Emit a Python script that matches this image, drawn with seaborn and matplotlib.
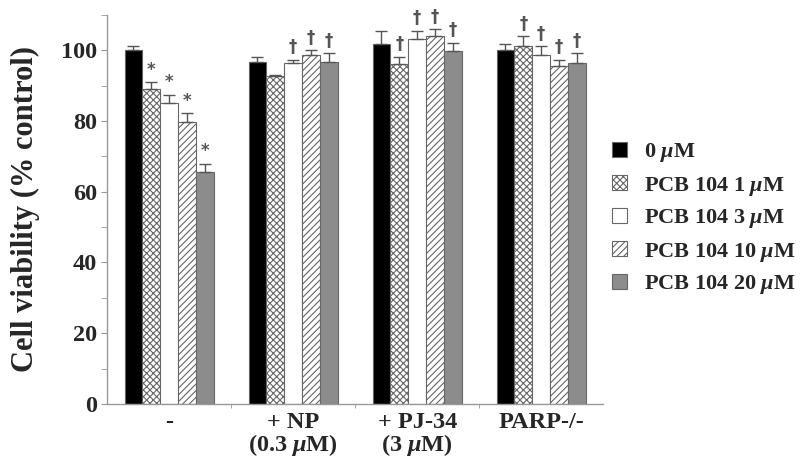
import numpy as np
import pandas as pd
import matplotlib
matplotlib.use("Agg")
import matplotlib.pyplot as plt
import seaborn as sns

# values
groups = ["-", "+ NP\n(0.3 $\\mu$M)", "+ PJ-34\n(3 $\\mu$M)", "PARP-/-"]
doses = ["0 $\\mu$M", "PCB 104 1 $\\mu$M", "PCB 104 3 $\\mu$M",
         "PCB 104 10 $\\mu$M", "PCB 104 20 $\\mu$M"]
viability = [
    [100.0, 89.0, 85.2, 79.6, 65.6],
    [96.8, 92.6, 96.3, 98.6, 96.7],
    [101.9, 96.2, 103.3, 104.1, 99.8],
    [100.0, 101.2, 98.6, 95.6, 96.5],
]
sem = [
    [1.1, 2.0, 2.2, 2.6, 2.3],
    [1.2, 0.4, 1.0, 1.4, 2.4],
    [3.5, 2.0, 2.3, 1.9, 2.4],
    [1.9, 2.8, 2.6, 1.8, 2.6],
]
marks = [
    ["", "*", "*", "*", "*"],
    ["", "", "\u2020", "\u2020", "\u2020"],
    ["", "\u2020", "\u2020", "\u2020", "\u2020"],
    ["", "\u2020", "\u2020", "\u2020", "\u2020"],
]

colors = ["#000000", "#ffffff", "#ffffff", "#ffffff", "#8c8c8c"]
hatches = [None, "xxxxx", None, "/////", None]

rows = []
for g, vals in zip(groups, viability):
    for d, v in zip(doses, vals):
        rows.append({"group": g, "dose": d, "value": v})
df = pd.DataFrame(rows)

sns.set_style("white")
plt.rcParams["font.family"] = ["Liberation Serif", "DejaVu Serif"]
plt.rcParams["font.weight"] = "bold"
plt.rcParams["mathtext.fontset"] = "custom"
plt.rcParams["mathtext.it"] = "Liberation Serif:italic:bold"
plt.rcParams["mathtext.rm"] = "Liberation Serif:bold"
plt.rcParams["hatch.color"] = "#999999"
plt.rcParams["hatch.linewidth"] = 0.8

fig = plt.figure(figsize=(8, 4.67), dpi=100)
ax = fig.add_axes([0.134, 0.135, 0.62, 0.833])

sns.barplot(data=df, x="group", y="value", hue="dose", order=groups,
            hue_order=doses, palette=colors, width=0.72, errorbar=None,
            edgecolor="#666666", linewidth=0.8, ax=ax)

for j, d in enumerate(doses):
    cont = ax.containers[j]
    for i, patch in enumerate(cont.patches):
        if hatches[j]:
            patch.set_hatch(hatches[j])
        xc = patch.get_x() + patch.get_width() / 2
        top = patch.get_height()
        ax.errorbar(xc, top, yerr=[[0], [sem[i][j]]], fmt="none",
                    ecolor="#555555", elinewidth=1, capsize=4, capthick=1)
        m = marks[i][j]
        if m:
            ax.text(xc, top + sem[i][j] + 1.0, m, ha="center", va="bottom",
                    fontsize=12, color="#555555",
                    family=["DejaVu Sans"], fontweight="bold")

ax.set_ylim(0, 110)
ax.set_xlim(-0.5, 3.5)
ax.set_yticks([0, 20, 40, 60, 80, 100])
ax.set_yticks([10, 30, 50, 70, 90, 110], minor=True)
ax.set_xticks([0.5, 1.5, 2.5], minor=True)
ax.tick_params(axis="y", which="both", direction="out", length=4,
               color="#999999", labelsize=17.5, left=True)
ax.tick_params(axis="x", which="major", length=0, labelsize=17.5, pad=6)
ax.tick_params(axis="x", which="minor", direction="out", length=3,
               color="#999999", bottom=True)
for lbl in ax.get_yticklabels() + ax.get_xticklabels():
    lbl.set_fontweight("bold")
for lbl in ax.get_xticklabels():
    lbl.set_linespacing(0.95)

ax.set_xlabel("")
ax.set_ylabel("Cell viability (% control)", fontsize=22, fontweight="bold",
              labelpad=15)
for s in ["top", "right"]:
    ax.spines[s].set_visible(False)
for s in ["left", "bottom"]:
    ax.spines[s].set_color("#999999")
    ax.spines[s].set_linewidth(1)

leg = ax.legend(loc="center left", bbox_to_anchor=(612 / 800, 1 - 219 / 467),
                bbox_transform=fig.transFigure, frameon=False,
                borderaxespad=0, borderpad=0,
                fontsize=16, handlelength=0.68, handleheight=0.68,
                handletextpad=0.75, labelspacing=0.45)
for h, hatch in zip(leg.legend_handles, hatches):
    if hatch:
        h.set_hatch(hatch)
    h.set_edgecolor("#666666")
for t in leg.get_texts():
    t.set_fontweight("bold")

fig.savefig("out.png", dpi=100)
